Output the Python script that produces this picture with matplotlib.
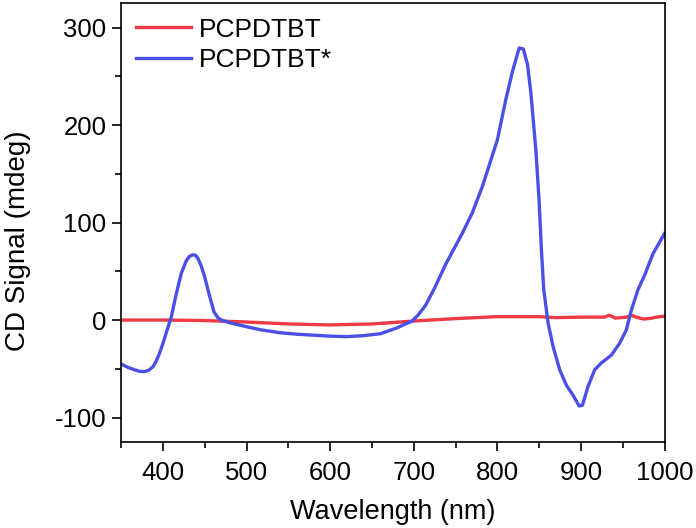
import matplotlib
matplotlib.use("Agg")
import matplotlib.pyplot as plt
from matplotlib.ticker import MultipleLocator

plt.rcParams['font.family'] = ['Liberation Sans', 'DejaVu Sans']
plt.rcParams['axes.unicode_minus'] = False

wl_blue = [350, 358, 366, 372, 378, 383, 388, 392, 396, 400, 404, 410, 416, 422, 428, 432,
           436, 439, 442, 446, 450, 456, 461, 466, 470, 481, 501, 517, 540, 560, 580, 600,
           620, 640, 660, 680, 690, 698, 705, 714, 725,
           738, 758, 770, 782, 800, 810, 818, 826, 831, 836, 840, 846, 849.8, 852.6, 855.4,
           860.6, 866.5, 874.5, 882.5, 890.4, 897.6, 901.6, 908.4, 916.3, 924.3, 936.2, 946,
           954.2, 960.1, 968, 976, 986, 1000]
cd_blue = [-45, -48.5, -51, -52.5, -53, -51.5, -48, -42, -34, -24, -13, 3, 27, 48, 61, 65.5,
           67, 66.5, 63, 55, 44, 24, 8.5, 2, 0, -3, -7, -10, -13, -14.5, -15.5, -16.5,
           -17, -16, -14, -8, -4, -1, 5, 15, 33,
           57, 89, 110, 137, 185, 226, 255, 279, 278, 262, 233, 174, 123, 72, 31,
           -3, -27, -51, -67, -77, -88, -87.5, -68, -51, -44, -36, -24,
           -10, 10, 31, 46, 68, 89]

wl_red = [350, 400, 450, 500, 550, 600, 650, 700, 750, 800, 850, 870, 900, 928, 934, 941,
          955, 960, 966, 975, 985, 990, 1000]
cd_red = [0, 0, -0.5, -2, -4, -5, -4, -1, 1.5, 3.5, 3.5, 2.5, 3, 3, 5, 2,
          3, 5, 3, 1, 2, 3, 4]

labels = ['PCPDTBT', 'PCPDTBT*']

fig = plt.figure(figsize=(6.96, 5.28), dpi=100)
ax = fig.add_axes([0.174, 0.163, 0.781, 0.831])

ax.plot(wl_red, cd_red, color='#ee3a44', lw=2.4, label=labels[0])
ax.plot(wl_blue, cd_blue, color='#4a50e6', lw=2.4, label=labels[1])

ax.set_xlim(350, 1000)
ax.set_ylim(-125, 325)
ax.xaxis.set_major_locator(MultipleLocator(100))
ax.xaxis.set_minor_locator(MultipleLocator(50))
ax.yaxis.set_major_locator(MultipleLocator(100))
ax.yaxis.set_minor_locator(MultipleLocator(50))
ax.tick_params(which='both', direction='out', top=False, right=False, labelsize=18.5)
ax.tick_params(which='major', length=6.5, width=1.2)
ax.tick_params(which='minor', length=4, width=1.2)
ax.tick_params(axis='x', pad=7)
ax.tick_params(axis='y', pad=4)
for s in ax.spines.values():
    s.set_linewidth(1.2)

ax.set_xlabel('Wavelength (nm)', fontsize=19.5, labelpad=10)
ax.set_ylabel('CD Signal (mdeg)', fontsize=20)
ax.yaxis.set_label_coords(-0.166, 0.458)

ax.legend(loc='upper left', frameon=False, fontsize=19, handlelength=2.1,
          handletextpad=0.3, borderaxespad=0.25, borderpad=0.3, labelspacing=0.25)

fig.savefig('out.png', dpi=100)
